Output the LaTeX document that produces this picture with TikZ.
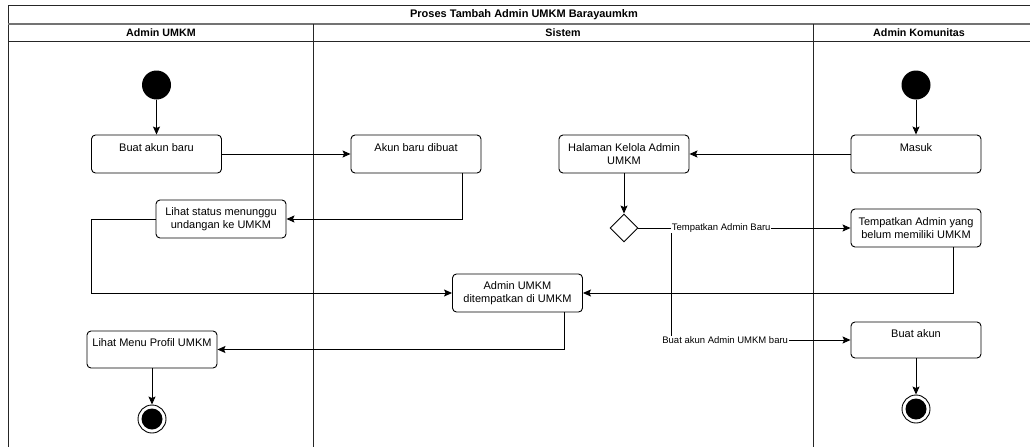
\documentclass[tikz,border=0pt]{standalone}
\usepackage{fontspec}
\setmainfont{Liberation Sans}
\usetikzlibrary{shapes.geometric,arrows.meta}
\begin{document}
\begin{tikzpicture}[x=1pt,y=-1pt,
  act/.style={draw, rounded corners=4pt, minimum width=130pt, minimum height=38pt,
    inner sep=0pt, align=center, font=\fontsize{11}{13}\selectfont, line width=0.9pt},
  startnode/.style={circle, fill=black, minimum size=29pt, inner sep=0pt},
  endnode/.style={circle, draw, line width=0.9pt, minimum size=28pt, inner sep=0pt,
    path picture={\fill (path picture bounding box.center) circle (10.5pt);}},
  decision/.style={diamond, draw, line width=0.9pt, minimum width=28pt, minimum height=28pt,
    inner sep=0pt},
  arr/.style={line width=0.9pt, -{Stealth[length=8pt,width=7pt,inset=1.5pt]}},
  lbl/.style={fill=white, inner sep=0.5pt, font=\fontsize{9.5}{11}\selectfont},
  hdr/.style={font=\bfseries\fontsize{10.7}{12}\selectfont, inner sep=0pt},
  lane/.style={line width=1pt, draw=black!85}
]
\useasboundingbox (0,0) rectangle (1030,447);

% swimlane frame
\draw[lane] (1030,5) -- (8,5) -- (8,447);
\draw[line width=1.5pt, draw=black!55] (8,24) -- (1030,24);
\draw[lane] (8,41) -- (1030,41);
\draw[lane] (313.5,24) -- (313.5,447);
\draw[lane] (813.5,24) -- (813.5,447);

\node[hdr, font=\bfseries\fontsize{11}{13}\selectfont] (title) at (524,15) {Proses Tambah Admin UMKM Barayaumkm};
\node[hdr] (laneA) at (161,33) {Admin UMKM};
\node[hdr] (laneB) at (563,33) {Sistem};
\node[hdr] (laneC) at (919,33) {Admin Komunitas};

% activities
\node[startnode] (start1) at (156.5,85) {};
\node[startnode] (start2) at (916,85) {};
\node[act] (buatbaru) at (156.5,154) {Buat akun baru\\\mbox{}};
\node[act] (akunbaru) at (416,154) {Akun baru dibuat\\\mbox{}};
\node[act] (status) at (221,219) {Lihat status menunggu\\undangan ke UMKM};
\node[act] (ditemp) at (517.5,293) {Admin UMKM\\ditempatkan di UMKM};
\node[act, minimum height=37pt] (profil) at (152,349.5) {Lihat Menu Profil UMKM\\\mbox{}};
\node[act] (halaman) at (624,154) {Halaman Kelola Admin\\UMKM};
\node[act] (masuk) at (916,154) {Masuk\\\mbox{}};
\node[act] (tempat) at (916,228) {Tempatkan Admin yang\\belum memiliki UMKM};
\node[act, minimum height=36pt] (buatakun) at (916,340) {Buat akun\\\mbox{}};
\node[decision] (dec) at (624,228) {};
\node[endnode] (end1) at (152,419) {};
\node[endnode] (end2) at (916,409) {};

% control flow
\draw[arr] (start1) -- (buatbaru);
\draw[arr] (buatbaru) -- (akunbaru);
\draw[arr] ([xshift=46pt]akunbaru.south) |- (status.east);
\draw[arr] (status.west) -- ++(-64,0) |- (ditemp.west);
\draw[arr] (start2) -- (masuk);
\draw[arr] (masuk) -- (halaman);
\draw[arr] (halaman) -- (dec);
\draw[arr] (dec.east) -- ++(33,0) |- node[lbl, pos=0.65] {Buat akun Admin UMKM baru} (buatakun.west);
\draw[arr] (dec.east) -- node[lbl, pos=0.39] {Tempatkan Admin Baru} (tempat.west);
\draw[arr] ([xshift=37pt]tempat.south) |- (ditemp.east);
\draw[arr] ([xshift=46.5pt]ditemp.south) |- (profil.east);
\draw[arr] (profil) -- (end1);
\draw[arr] (buatakun) -- (end2);
\end{tikzpicture}
\end{document}
